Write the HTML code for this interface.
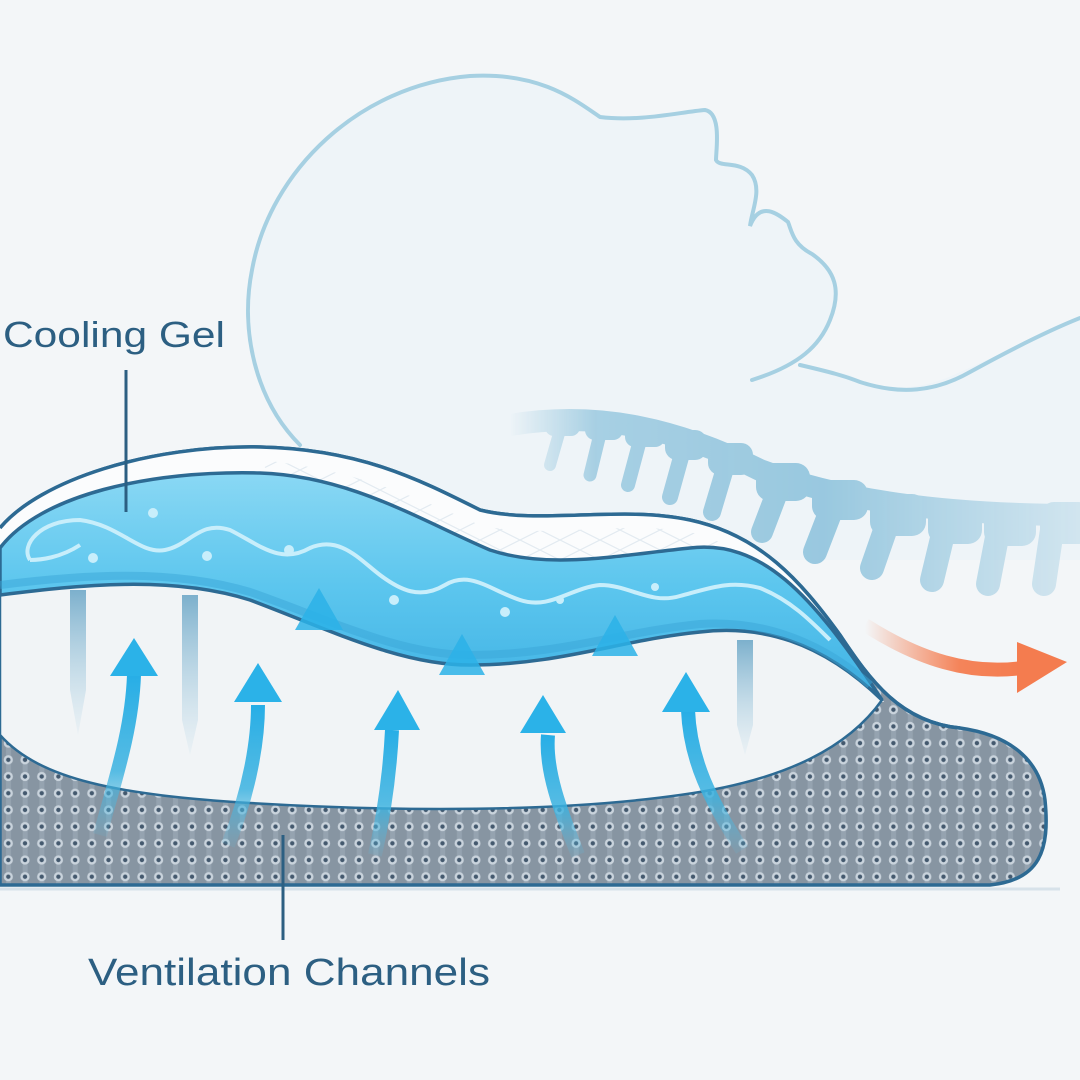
<!DOCTYPE html>
<html><head><meta charset="utf-8"><style>
html,body{margin:0;padding:0;background:#f3f6f8}
svg{display:block}
text{font-family:"Liberation Sans",sans-serif;fill:#2c5f82}
</style></head><body>
<svg width="1080" height="1080" viewBox="0 0 1080 1080" xmlns="http://www.w3.org/2000/svg">
<defs>
<pattern id="dots" width="16.7" height="16.7" patternUnits="userSpaceOnUse">
<rect width="16.7" height="16.7" fill="#8795a2"/>
<rect x="6" y="0" width="5" height="16.7" fill="#95a3b0"/>
<circle cx="8.3" cy="8.3" r="4.6" fill="#c9d3dc"/>
<circle cx="8.3" cy="8.3" r="2.2" fill="#44596e"/>
</pattern>
<linearGradient id="gel" x1="0" y1="0" x2="0" y2="1">
<stop offset="0" stop-color="#8ad8f4"/><stop offset="0.5" stop-color="#5cc6ee"/><stop offset="1" stop-color="#3fb2e4"/>
</linearGradient>
<linearGradient id="arr" x1="0" y1="0" x2="0" y2="1">
<stop offset="0" stop-color="#27aee6"/><stop offset="0.6" stop-color="#3bb2e0" stop-opacity="0.85"/><stop offset="1" stop-color="#5bbbe0" stop-opacity="0.15"/>
</linearGradient>
<linearGradient id="pin" x1="0" y1="0" x2="0" y2="1">
<stop offset="0" stop-color="#5f9fc2" stop-opacity="0.8"/><stop offset="1" stop-color="#a9d0e4" stop-opacity="0.1"/>
</linearGradient>
<linearGradient id="or" x1="0" y1="0" x2="1" y2="0">
<stop offset="0" stop-color="#f47c4f" stop-opacity="0"/><stop offset="0.6" stop-color="#f4845a"/><stop offset="1" stop-color="#f47c4f"/>
</linearGradient>
<linearGradient id="spfade" x1="510" y1="0" x2="1080" y2="0" gradientUnits="userSpaceOnUse">
<stop offset="0" stop-color="#fff" stop-opacity="0"/><stop offset="0.15" stop-color="#fff" stop-opacity="0.75"/><stop offset="0.55" stop-color="#fff" stop-opacity="0.9"/><stop offset="1" stop-color="#fff" stop-opacity="0.3"/>
</linearGradient>
<mask id="spm"><rect x="0" y="0" width="1080" height="1080" fill="url(#spfade)"/></mask>
<pattern id="mesh" width="40" height="20" patternUnits="userSpaceOnUse">
<path d="M0,0 L40,20 M0,20 L40,0" stroke="#dfe8ef" stroke-width="1.2"/>
</pattern>
</defs>

<rect width="1080" height="1080" fill="#f3f6f8"/>

<path d="M300,445 C255,400 240,330 252,270 C270,170 360,85 470,76 C540,72 575,100 600,117 C640,122 680,112 705,110 C722,113 716,150 716,160 C720,168 740,160 752,175 C762,190 752,210 750,226 C760,200 778,214 788,222 C792,232 793,244 812,254 C835,270 842,290 830,320 C820,345 800,365 770,372 C800,368 830,370 850,375 C880,392 920,392 960,372 C1010,350 1050,330 1080,318 L1080,560 L300,560 Z" fill="#eef4f8"/>
<path d="M300,445 C255,400 240,330 252,270 C270,170 360,85 470,76 C540,72 575,100 600,117 C640,122 680,112 705,110 C722,113 716,150 716,160 C720,168 740,160 752,175 C762,190 752,210 750,226 C760,200 778,214 788,222 C792,232 793,244 812,254 C835,270 842,290 830,320 C820,345 800,365 752,380 M800,365 C830,372 845,376 860,382 C900,395 935,392 970,372 C1010,350 1050,330 1080,318" fill="none" stroke="#a6d0e2" stroke-width="4" stroke-linecap="round"/>

<!-- spine -->
<g mask="url(#spm)" fill="#8fc3dc" stroke="#8fc3dc" stroke-linecap="round">
<path d="M510,425 C600,410 680,430 760,470 C840,500 940,515 1080,515" stroke-width="22" fill="none"/>
<rect x="545" y="414" width="35" height="22" rx="9" stroke="none"/><line x1="560" y1="430" x2="550" y2="465" stroke-width="12"/>
<rect x="585" y="416" width="38" height="24" rx="10" stroke="none"/><line x1="600" y1="434" x2="590" y2="475" stroke-width="13"/>
<rect x="625" y="421" width="40" height="26" rx="10" stroke="none"/><line x1="640" y1="440" x2="628" y2="485" stroke-width="14"/>
<rect x="665" y="430" width="42" height="30" rx="12" stroke="none"/><line x1="683" y1="450" x2="670" y2="497" stroke-width="16"/>
<rect x="708" y="443" width="45" height="32" rx="12" stroke="none"/><line x1="726" y1="465" x2="712" y2="512" stroke-width="18"/>
<rect x="756" y="463" width="54" height="38" rx="14" stroke="none"/><line x1="778" y1="490" x2="762" y2="532" stroke-width="22"/>
<rect x="812" y="480" width="56" height="40" rx="14" stroke="none"/><line x1="832" y1="508" x2="815" y2="552" stroke-width="24"/>
<rect x="870" y="494" width="56" height="42" rx="14" stroke="none"/><line x1="888" y1="522" x2="872" y2="568" stroke-width="24"/>
<rect x="928" y="502" width="54" height="42" rx="14" stroke="none"/><line x1="944" y1="530" x2="932" y2="580" stroke-width="24"/>
<rect x="984" y="504" width="52" height="42" rx="14" stroke="none"/><line x1="998" y1="532" x2="988" y2="584" stroke-width="24"/>
<rect x="1040" y="502" width="52" height="42" rx="14" stroke="none"/><line x1="1052" y1="530" x2="1044" y2="584" stroke-width="24"/>
</g>

<path d="M0,528 C40,480 150,445 260,447 C360,449 420,480 480,510 C540,525 620,505 690,520 C760,535 800,580 840,635 C870,680 900,722 960,728 C1010,735 1040,760 1045,800 C1050,850 1040,880 990,885 L0,885 Z" fill="url(#dots)" stroke="#2d6a93" stroke-width="3.5"/>
<path d="M0,528 C40,480 150,445 260,447 C360,449 420,480 480,510 C540,525 620,505 690,520 C760,535 800,580 840,635 C860,665 875,690 884,702 L0,702 Z" fill="#fbfcfd"/>
<path d="M260,460 C360,470 420,500 480,525 C540,540 620,520 690,532 C740,545 780,575 820,620 L700,600 L300,520 Z" fill="url(#mesh)" opacity="0.9"/>
<path d="M0,528 C40,480 150,445 260,447 C360,449 420,480 480,510 C540,525 620,505 690,520 C760,535 800,580 840,635 C870,680 900,722 960,728" fill="none" stroke="#2d6a93" stroke-width="3.5"/>

<path d="M0,592 C80,582 170,575 250,600 C330,630 400,665 470,665 C560,665 620,640 700,632 C760,625 820,640 882,700 C850,745 790,780 680,795 C560,812 400,812 250,803 C120,795 40,780 0,735 Z" fill="#f1f4f6" stroke="#2d6a93" stroke-width="2.5"/>

<path d="M0,548 C40,495 150,470 260,473 C350,476 420,520 490,550 C550,570 620,555 690,548 C760,540 810,590 882,700 C820,640 760,625 700,632 C620,640 560,665 470,665 C400,665 330,630 250,600 C170,575 80,585 0,595 Z" fill="url(#gel)" stroke="#2d6a93" stroke-width="3.5"/>
<path d="M0,585 C80,575 170,568 250,592 C330,620 400,655 470,655 C560,655 620,632 700,624 C760,620 820,640 870,685" fill="none" stroke="#3aa6d8" stroke-width="8" opacity="0.5"/>
<path d="M30,560 C20,545 40,520 80,520 C120,525 140,555 165,550 C190,545 200,520 230,530 C260,545 280,565 310,548 C340,535 360,560 380,575 C400,590 420,600 445,585 C470,570 490,590 520,600 C550,610 570,588 600,585 C630,585 650,605 680,596 C710,588 730,580 760,588 C790,600 810,620 830,640" fill="none" stroke="#c8eefb" stroke-width="4"/>
<path d="M30,560 C40,560 60,558 80,545" fill="none" stroke="#c8eefb" stroke-width="4"/>
<g fill="#c8eefb"><circle cx="153" cy="513" r="5"/><circle cx="93" cy="558" r="5"/><circle cx="207" cy="556" r="5"/><circle cx="289" cy="550" r="5"/><circle cx="394" cy="600" r="5"/><circle cx="505" cy="612" r="5"/><circle cx="560" cy="600" r="4"/><circle cx="655" cy="587" r="4"/></g>

<g fill="url(#pin)">
<path d="M70,590 L86,590 L86,690 L78,735 L70,690 Z"/>
<path d="M182,595 L198,595 L198,720 L190,755 L182,720 Z"/>
<path d="M737,640 L753,640 L753,725 L745,755 L737,725 Z"/>
</g>

<g fill="none" stroke="url(#arr)" stroke-width="14" stroke-linecap="butt">
<path d="M100,835 C115,780 132,730 134,675"/>
<path d="M228,845 C250,790 258,740 258,705"/>
<path d="M375,855 C385,810 390,770 392,730"/>
<path d="M578,855 C560,810 545,770 548,735"/>
<path d="M742,850 C710,800 690,760 688,710"/>
<path d="M320,765 L320,630"/>
<path d="M462,775 L462,670"/>
<path d="M612,765 L612,655"/>
</g>
<g fill="#2bb2e8">
<polygon points="134,638 158,676 110,676"/>
<polygon points="258,663 282,702 234,702"/>
<polygon points="398,690 420,730 374,730"/>
<polygon points="543,695 566,733 520,733"/>
<polygon points="686,672 710,712 662,712"/>
<polygon points="319,588 343,630 295,630" opacity="0.85"/>
<polygon points="462,634 485,675 439,675" opacity="0.85"/>
<polygon points="615,615 638,656 592,656" opacity="0.85"/>
</g>

<path d="M865,625 C920,660 970,675 1022,668" fill="none" stroke="url(#or)" stroke-width="14"/>
<polygon points="1017,642 1067,662 1017,693" fill="#f47c4f"/>

<line x1="0" y1="889" x2="1060" y2="889" stroke="#d7e2ea" stroke-width="3"/>

<text x="3" y="347" font-size="36" textLength="222" lengthAdjust="spacingAndGlyphs">Cooling Gel</text>
<line x1="126" y1="370" x2="126" y2="512" stroke="#2c5f82" stroke-width="3"/>
<text x="88" y="985" font-size="38" textLength="402" lengthAdjust="spacingAndGlyphs">Ventilation Channels</text>
<line x1="283" y1="835" x2="283" y2="940" stroke="#2c5f82" stroke-width="3"/>
</svg>
</body></html>
